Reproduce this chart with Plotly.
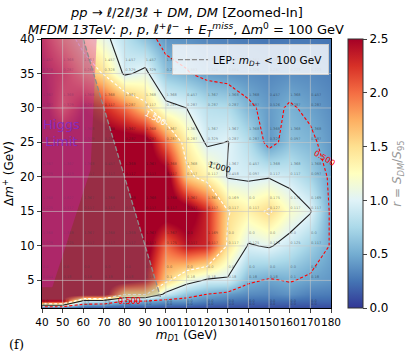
import plotly.graph_objects as go

# ---------------- data ----------------
m_d1 = [40, 50, 60, 70, 80, 90, 100, 110, 120, 130, 140, 150, 160, 170, 180]
delta_m = [1, 2, 3, 5, 10, 15, 20, 25, 30, 35, 40]
# r = S_DM / S_95, rows follow delta_m, columns follow m_d1
ratio = [
    [0.05, 0.05, 0.08, 0.08, 0.10, 0.10, 0.10, 0.08, 0.08, 0.08, 0.08, 0.08, 0.08, 0.08, 0.08],
    [2.40, 2.40, 0.85, 0.80, 0.50, 0.50, 0.40, 0.40, 0.30, 0.25, 0.22, 0.22, 0.22, 0.20, 0.20],
    [2.70, 2.70, 2.70, 2.70, 1.55, 1.55, 0.90, 0.62, 0.50, 0.42, 0.35, 0.33, 0.38, 0.30, 0.28],
    [2.70, 2.70, 2.70, 2.70, 2.70, 2.50, 1.60, 1.15, 0.95, 0.95, 0.55, 0.47, 0.52, 0.45, 0.40],
    [2.70, 2.70, 2.70, 2.70, 2.70, 2.70, 2.00, 2.40, 2.30, 1.45, 0.97, 1.03, 0.88, 0.70, 0.48],
    [2.70, 2.70, 2.70, 2.70, 2.70, 2.70, 2.70, 2.70, 2.30, 1.52, 1.35, 1.55, 1.20, 1.02, 0.45],
    [2.70, 2.70, 2.70, 2.70, 2.70, 2.70, 2.70, 1.60, 1.35, 0.98, 0.95, 0.98, 0.90, 0.72, 0.45],
    [2.70, 2.70, 2.70, 2.70, 2.70, 2.70, 2.00, 1.35, 0.95, 1.01, 0.80, 0.40, 0.62, 0.55, 0.40],
    [2.70, 2.00, 2.50, 2.30, 2.00, 1.60, 1.10, 1.00, 0.82, 0.78, 0.55, 0.42, 0.53, 0.45, 0.36],
    [2.50, 2.20, 1.75, 1.47, 0.95, 1.08, 0.62, 0.52, 0.42, 0.38, 0.36, 0.33, 0.36, 0.34, 0.30],
    [2.30, 1.75, 1.35, 1.08, 0.82, 0.62, 0.40, 0.38, 0.33, 0.31, 0.28, 0.26, 0.27, 0.27, 0.25],
]

# small per-point labels printed in the map (two numbers per point)
label_rows = [1, 5, 10, 15, 20, 25, 30, 35]
label_top = [
    ["0.0"] * 15,
    ["0.0"] * 15,
    ["1.368", "1.368", "1.367", "1.368", "1.368", "1.367", "1.367", "0.0", "1.169", "0.0", "0.0", "0.0", "0.0", "0.0", "0.0"],
    ["1.368", "0.827", "1.367", "1.368", "1.368", "1.368", "1.368", "1.367", "1.367", "0.169", "0.0", "0.175", "0.175", "0.169", "0.319"],
    ["1.367", "1.367", "1.368", "0.457", "1.368", "1.367", "1.368", "1.368", "1.367", "1.367", "0.457", "1.368", "1.368", "1.368", "1.367"],
    ["1.367", "1.368", "1.368", "1.368", "1.367", "1.368", "1.367", "1.367", "1.367", "1.367", "1.368", "1.368", "1.368", "1.368", "1.367"],
    ["1.367", "1.368", "1.368", "1.368", "1.367", "1.368", "1.368", "0.457", "1.367", "1.368", "1.368", "0.457", "1.368", "0.457", "1.367"],
    ["1.457", "1.368", "1.367", "1.457", "1.457", "1.457", "1.367", "1.367", "1.367", "1.367", "1.367", "1.367", "1.367", "1.367", "1.367"],
]
label_bottom = [
    ["0.0"] * 15,
    ["0.044", "0.18", "0.18", "0.18", "0.18", "0.18", "0.1", "0.18", "0.18", "0.18", "0.18", "0.18", "0.1", "0.18", "0.18"],
    ["0.029", "0.225", "0.117", "0.117", "0.117", "0.117", "0.125", "0.117", "0.117", "0.117", "0.125", "0.125", "0.125", "0.117", "0.116"],
    ["0.225", "0.117", "0.117", "0.117", "0.117", "0.117", "0.117", "0.117", "0.117", "0.117", "0.117", "0.127", "0.117", "0.117", "0.117"],
    ["0.329", "0.419", "0.117", "0.117", "0.117", "0.117", "0.117", "0.117", "0.117", "0.458", "0.097", "0.117", "0.117", "0.097", "0.117"],
    ["0.329", "0.287", "0.329", "0.287", "0.287", "0.287", "0.287", "0.287", "0.329", "0.287", "0.287", "0.329", "0.097", "0.287", "0.292"],
    ["0.287", "0.329", "0.287", "0.117", "0.287", "0.117", "0.287", "0.287", "0.287", "0.287", "0.287", "0.526", "0.287", "0.287", "0.884"],
    ["0.328", "0.287", "0.287", "0.328", "0.329", "0.329", "0.287", "0.883", "1.326", "0.884", "1.326", "0.287", "0.223", "0.223", "0.223"],
]

x_ticks = list(range(40, 181, 10))
y_ticks = list(range(5, 41, 5))
cbar_ticks = [0.0, 0.5, 1.0, 1.5, 2.0, 2.5]

LEP_MASS = 100.0           # m_D+ = m_D1 + delta_m < 100 GeV
lep_floor_x = [40, 58, 60]
lep_floor_y = [2.2, 2.2, 2.6]
higgs_x = [40, 66.5, 63.5, 45, 40]
higgs_y = [40, 40, 21, 4, 4]

contour_levels = [0.5, 1.0, 1.5]
contour_colors = ["red", "#222222", "white"]
contour_dash = ["3px,2px", "solid", "3px,2px"]

# plot area in pixels (for placing free text)
W, H = 407, 357
PL, PR, PT, PB = 42, 331, 39, 308


def px2paper(px, py):
    return (px - PL) / (PR - PL), (PB - py) / (PB - PT)


# ---------------- figure ----------------
fig = go.Figure()

cbx, _ = px2paper(348, 0)
fig.add_trace(go.Heatmap(
    x=m_d1, y=delta_m, z=ratio, zmin=0, zmax=2.5, zsmooth="best",
    colorscale="RdYlBu", reversescale=True, hoverinfo="skip",
    colorbar=dict(
        x=cbx, xanchor="left", y=0.5, yanchor="middle", len=1.0, lenmode="fraction",
        xpad=0, ypad=0, thickness=15, outlinewidth=1, outlinecolor="#333",
        tickvals=cbar_ticks, ticktext=[f"{v:.1f}" for v in cbar_ticks],
        ticks="outside", ticklen=4, tickfont=dict(size=12, color="black"),
        title=dict(text="<i>r</i> = <i>S</i><sub><i>DM</i></sub>/<i>S</i><sub>95</sub>",
                   side="right", font=dict(size=12, color="#999")),
    ),
))

for lev, col, dsh in zip(contour_levels, contour_colors, contour_dash):
    fig.add_trace(go.Contour(
        x=m_d1, y=delta_m, z=ratio, showscale=False, hoverinfo="skip",
        contours=dict(start=lev, end=lev, size=1, coloring="none", showlabels=False),
        line=dict(color=col, dash=dsh, width=1.1, smoothing=0),
        showlegend=False,
    ))

# per-point small labels
lx, ly, lt = [], [], []
for r, base in enumerate(label_rows):
    up = base + 1.0 if base == 1 else base + 1.9
    lo = base + 0.55 if base == 1 else base + 0.45
    for c, xv in enumerate(m_d1):
        lx += [xv + 0.3, xv + 0.3]
        ly += [up, lo]
        lt += [label_top[r][c], label_bottom[r][c]]
fig.add_trace(go.Scatter(x=lx, y=ly, text=lt, mode="text", textposition="middle right",
                         textfont=dict(size=3.6, color="rgba(30,30,30,0.55)"), cliponaxis=False,
                         hoverinfo="skip", showlegend=False))

# LEP region
lep_top_x = LEP_MASS - max(delta_m)
lep_bot_x = LEP_MASS - lep_floor_y[-1]
lep_px = lep_floor_x + [lep_bot_x, lep_top_x, lep_floor_x[0], lep_floor_x[0]]
lep_py = lep_floor_y + [lep_floor_y[-1], max(delta_m), max(delta_m), lep_floor_y[0]]
fig.add_trace(go.Scatter(x=lep_px, y=lep_py, mode="lines", fill="toself",
                         fillcolor="rgba(128,128,128,0.35)", line=dict(width=0),
                         hoverinfo="skip", showlegend=False))
# Higgs region
fig.add_trace(go.Scatter(x=higgs_x + [higgs_x[0]], y=higgs_y + [higgs_y[0]], mode="lines",
                         fill="toself", fillcolor="rgba(212,30,170,0.36)", line=dict(width=0),
                         hoverinfo="skip", showlegend=False))
# LEP line
fig.add_trace(go.Scatter(x=[lep_top_x, lep_bot_x], y=[max(delta_m), lep_floor_y[-1]],
                         mode="lines", line=dict(color="#8c8c8c", width=1.3, dash="5px,2px"),
                         name="LEP: <i>m</i><sub><i>D</i>+</sub> < 100 GeV", hoverinfo="skip"))

# grid lines drawn over the map
shapes = []
for xv in x_ticks[1:-1]:
    shapes.append(dict(type="line", xref="x", yref="y", x0=xv, x1=xv, y0=1, y1=40,
                       line=dict(color="rgba(200,200,200,0.6)", width=1), layer="above"))
for yv in y_ticks[:-1]:
    shapes.append(dict(type="line", xref="x", yref="y", x0=40, x1=180, y0=yv, y1=yv,
                       line=dict(color="rgba(200,200,200,0.6)", width=1), layer="above"))

t1x, t1y = px2paper(186, 13)
t2x, t2y = px2paper(186, 30)
fx, fy = px2paper(16, 344)
annotations = [
    dict(x=t1x, y=t1y, xref="paper", yref="paper", xanchor="center", yanchor="middle",
         text="<i>pp</i> → <i>ℓ</i>/2<i>ℓ</i>/3<i>ℓ</i> + <i>DM</i>, <i>DM</i> [Zoomed-In]",
         showarrow=False, font=dict(size=13)),
    dict(x=t2x, y=t2y, xref="paper", yref="paper", xanchor="center", yanchor="middle",
         text="<i>MFDM 13TeV</i>: <i>p</i>, <i>p</i>, <i>ℓ</i><sup>+</sup><i>ℓ</i><sup>−</sup> + "
              "<i>E</i><sub><i>T</i></sub><sup><i>miss</i></sup>, Δ<i>m</i><sup>0</sup> = 100 GeV",
         showarrow=False, font=dict(size=13)),
    dict(x=49.5, y=26.4, xref="x", yref="y", text="Higgs<br>Limit", showarrow=False,
         font=dict(size=13, color="rgba(125,45,205,0.85)")),
    dict(x=95.2, y=28.5, xref="x", yref="y", text="1.500", showarrow=False, textangle=28,
         font=dict(size=8, color="white")),
    dict(x=126.2, y=21.4, xref="x", yref="y", text="1.000", showarrow=False, textangle=15,
         font=dict(size=8, color="black")),
    dict(x=177, y=22.7, xref="x", yref="y", text="0.500", showarrow=False, textangle=30,
         font=dict(size=8, color="red")),
    dict(x=82.6, y=2.0, xref="x", yref="y", text="0.500", showarrow=False,
         font=dict(size=8, color="red")),
    dict(x=fx, y=fy, xref="paper", yref="paper", xanchor="center", yanchor="middle",
         text="(f)", showarrow=False, font=dict(size=13, family="DejaVu Serif", color="black")),
]

fig.update_layout(
    width=W, height=H,
    margin=dict(l=PL, r=W - PR, t=PT, b=H - PB, autoexpand=False),
    paper_bgcolor="white", plot_bgcolor="white",
    font=dict(family="DejaVu Sans", size=12, color="black"),
    xaxis=dict(range=[40, 180], tickvals=x_ticks, ticks="outside", ticklen=4, tickangle=0,
               showgrid=False, zeroline=False, showline=True, linecolor="black",
               linewidth=1, mirror=True, tickfont=dict(size=10.5),
               title=dict(text="<i>m</i><sub><i>D</i>1</sub> (GeV)", font=dict(size=12), standoff=3)),
    yaxis=dict(range=[1, 40], tickvals=y_ticks, ticks="outside", ticklen=4,
               showgrid=False, zeroline=False, showline=True, linecolor="black",
               linewidth=1, mirror=True, tickfont=dict(size=11.5),
               title=dict(text="Δ<i>m</i><sup>+</sup> (GeV)", font=dict(size=12), standoff=6)),
    legend=dict(x=0.993, xanchor="right", y=0.981, yanchor="top", itemwidth=30,
                bgcolor="rgba(255,255,255,0.8)", bordercolor="#cccccc", borderwidth=1,
                font=dict(size=10.5)),
    shapes=shapes, annotations=annotations, hovermode=False,
)

fig.write_html("out.html", config={"displayModeBar": False},
               post_script="document.body.style.margin='0';")
